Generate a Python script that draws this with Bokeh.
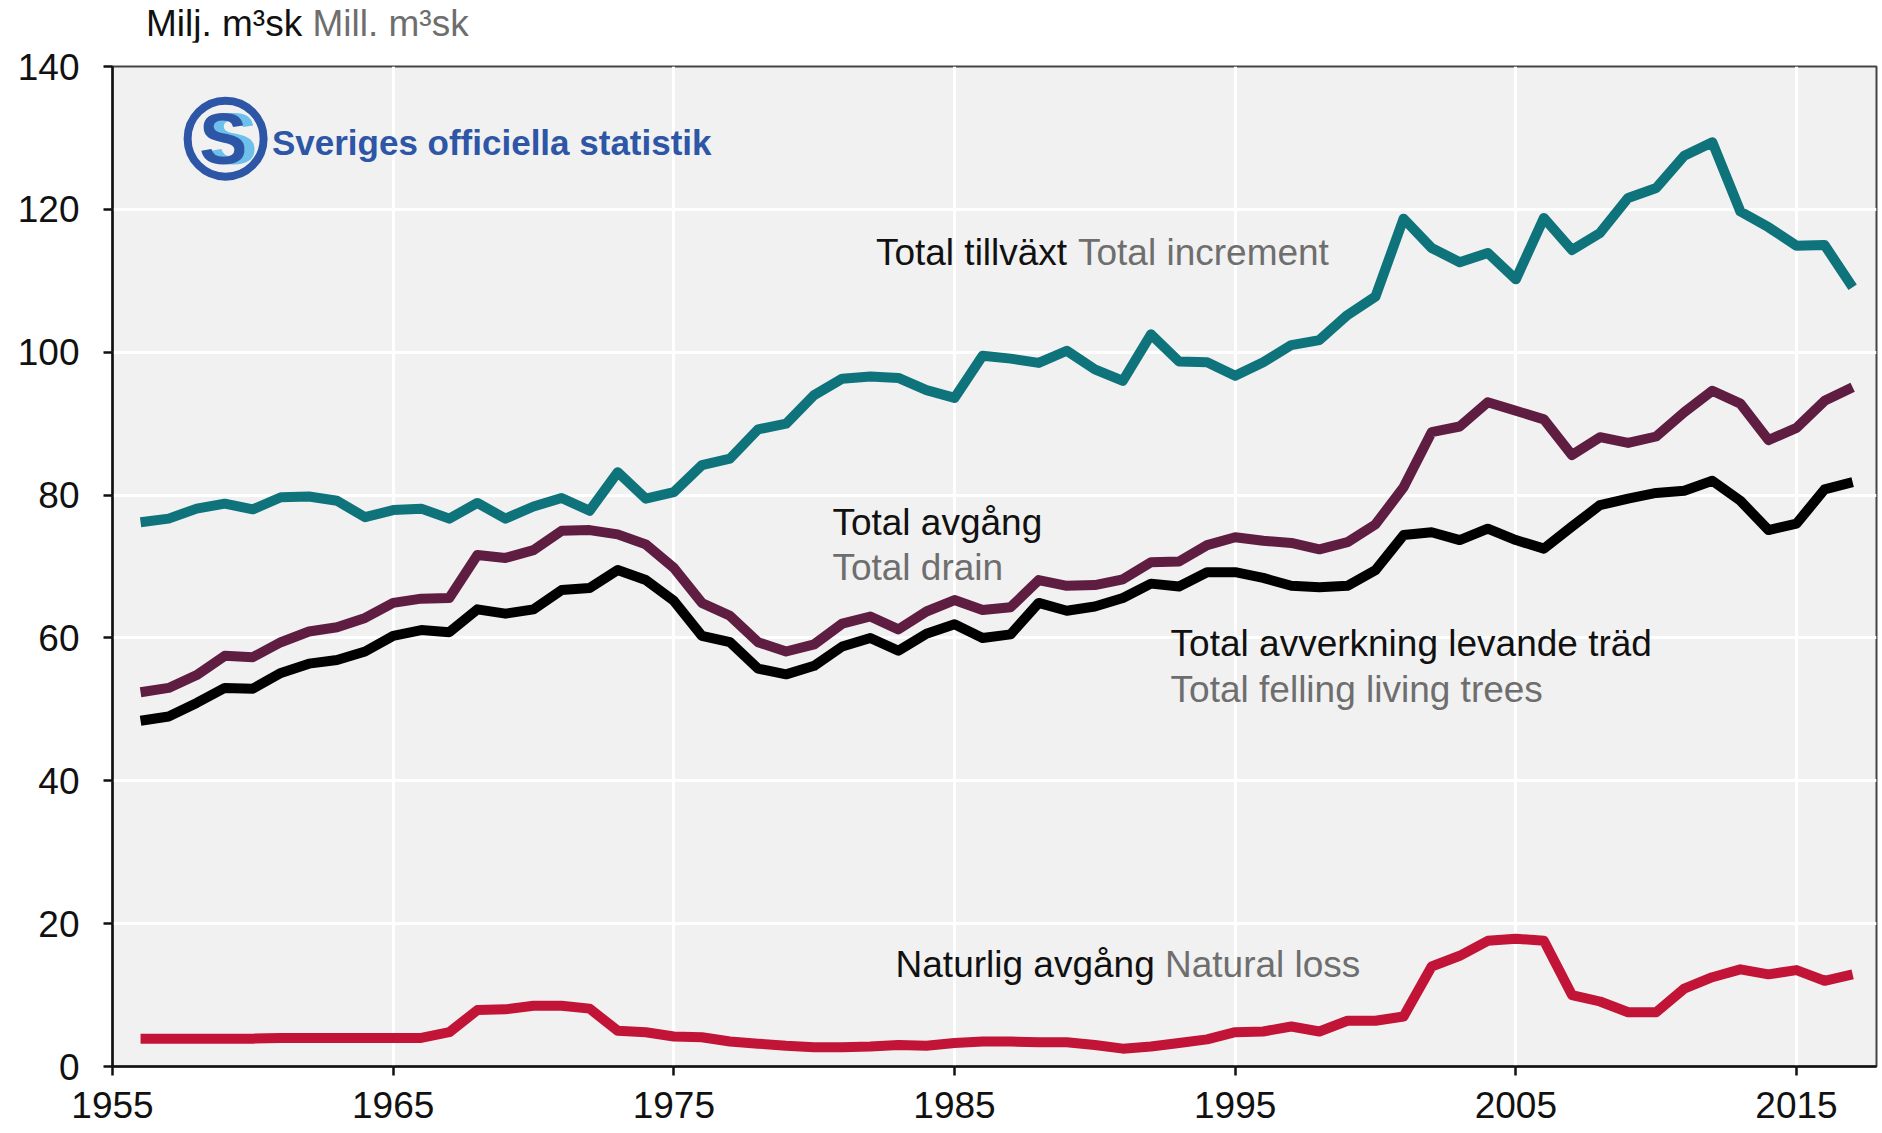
from bokeh.plotting import figure
from bokeh.models import Label, FixedTicker, Range1d, Div
from bokeh.layouts import column
from bokeh.embed import file_html
from bokeh.resources import INLINE

# ---------------- data ----------------
years = list(range(1956, 2018))

total_tillvaxt = [76.2, 76.7, 78.1, 78.8, 78.0, 79.7, 79.8, 79.2, 76.9, 77.9,
                  78.1, 76.7, 78.9, 76.7, 78.4, 79.6, 77.8, 83.2, 79.5, 80.4,
                  84.2, 85.1, 89.2, 90.0, 94.0, 96.3, 96.6, 96.4, 94.7, 93.6,
                  99.5, 99.1, 98.5, 100.2, 97.6, 96.0, 102.5, 98.7, 98.6, 96.7,
                  98.6, 101.0, 101.7, 105.2, 107.8, 118.7, 114.6, 112.6, 113.9, 110.2,
                  118.8, 114.3, 116.7, 121.6, 123.0, 127.5, 129.4, 119.7, 117.5, 114.9,
                  115.0, 109.1]

total_avgang = [52.4, 53.0, 54.8, 57.5, 57.3, 59.4, 60.9, 61.5, 62.8, 64.9,
                65.5, 65.6, 71.6, 71.2, 72.3, 75.0, 75.1, 74.5, 73.1, 69.8,
                64.9, 63.1, 59.4, 58.1, 59.1, 62.0, 63.0, 61.2, 63.7, 65.3,
                63.9, 64.3, 68.1, 67.3, 67.4, 68.2, 70.6, 70.7, 73.0, 74.1,
                73.6, 73.3, 72.4, 73.4, 75.9, 81.1, 88.8, 89.6, 93.0, 91.8,
                90.6, 85.6, 88.1, 87.3, 88.2, 91.6, 94.6, 92.8, 87.7, 89.4,
                93.2, 95.1]

total_avverkning = [48.4, 49.0, 50.9, 53.0, 52.9, 55.1, 56.4, 56.9, 58.1, 60.3,
                    61.1, 60.8, 64.0, 63.4, 64.0, 66.7, 67.0, 69.5, 68.1, 65.2,
                    60.3, 59.4, 55.7, 54.9, 56.1, 58.8, 60.0, 58.2, 60.6, 61.9,
                    60.0, 60.5, 64.9, 63.8, 64.4, 65.6, 67.6, 67.2, 69.2, 69.2,
                    68.4, 67.3, 67.1, 67.3, 69.5, 74.4, 74.8, 73.7, 75.3, 73.7,
                    72.5, 75.6, 78.6, 79.5, 80.3, 80.6, 82.0, 79.2, 75.1, 76.0,
                    80.8, 81.8]

naturlig_avgang = [3.9, 3.9, 3.9, 3.9, 3.9, 4.0, 4.0, 4.0, 4.0, 4.0,
                   4.0, 4.8, 7.9, 8.0, 8.5, 8.5, 8.1, 5.0, 4.8, 4.2,
                   4.1, 3.5, 3.2, 2.9, 2.7, 2.7, 2.8, 3.0, 2.9, 3.3,
                   3.5, 3.5, 3.4, 3.4, 3.0, 2.5, 2.8, 3.3, 3.8, 4.8,
                   4.9, 5.6, 4.9, 6.4, 6.4, 7.0, 14.0, 15.5, 17.6, 17.9,
                   17.6, 10.0, 9.1, 7.6, 7.6, 10.9, 12.5, 13.6, 12.9, 13.5,
                   12.0, 12.9]

x_ticks = [1955, 1965, 1975, 1985, 1995, 2005, 2015]
y_ticks = [0, 20, 40, 60, 80, 100, 120, 140]

unit_sv = "Milj. m³sk"
unit_en = "Mill. m³sk"

# ---------------- style ----------------
FONT = "Liberation Sans"
C_TEAL = "#0f737c"
C_PURPLE = "#5f1d42"
C_BLACK = "#000000"
C_RED = "#c11437"
C_TXT = "#111111"
C_GRAY = "#6e6e6e"
C_LOGO = "#2d56a6"
C_LOGO_LIGHT = "#6cc0ea"
LW = 10
FS = "37px"

header = Div(
    text=f'<span style="color:{C_TXT}">{unit_sv}</span> '
         f'<span style="color:{C_GRAY}">{unit_en}</span>',
    width=800, height=36, margin=(6, 0, 0, 146),
    styles={"font-family": FONT, "font-size": FS, "line-height": "36px",
            "white-space": "nowrap"})

p = figure(width=1880, height=1086, output_backend="svg", toolbar_location=None,
           x_range=Range1d(1955, 2017.85), y_range=Range1d(0, 140),
           min_border_left=112, min_border_right=4, min_border_top=24,
           min_border_bottom=62)

p.background_fill_color = "#f1f1f1"
p.border_fill_color = "white"
p.outline_line_color = "#444444"
p.outline_line_width = 2

p.xaxis.ticker = FixedTicker(ticks=x_ticks)
p.yaxis.ticker = FixedTicker(ticks=y_ticks)
for ax in (p.xaxis[0], p.yaxis[0]):
    ax.major_label_text_font = FONT
    ax.major_label_text_font_size = FS
    ax.major_label_text_color = C_TXT
    ax.axis_line_color = "#111111"
    ax.axis_line_width = 2.5
    ax.major_tick_line_color = "#111111"
    ax.major_tick_line_width = 2.5
    ax.major_tick_in = 0
    ax.major_tick_out = 9
    ax.minor_tick_line_color = None
p.yaxis.major_label_standoff = 24
p.xaxis.major_label_standoff = 16

p.xgrid.grid_line_color = "white"
p.ygrid.grid_line_color = "white"
p.xgrid.grid_line_width = 3
p.ygrid.grid_line_width = 3

# ---------------- lines ----------------
p.line(years, naturlig_avgang, line_color=C_RED, line_width=LW, line_join="round")
p.line(years, total_avverkning, line_color=C_BLACK, line_width=LW, line_join="round")
p.line(years, total_avgang, line_color=C_PURPLE, line_width=LW, line_join="round")
p.line(years, total_tillvaxt, line_color=C_TEAL, line_width=LW, line_join="round")

# ---------------- labels ----------------
def lab(x, y, text, color, size=FS, font=FONT, style="normal", baseline="middle", align="left"):
    p.add_layout(Label(x=x, y=y, text=text, text_color=color, text_font_size=size,
                       text_font=font, text_font_style=style, text_baseline=baseline,
                       text_align=align))

lab(1982.2, 114.0, "Total tillväxt", C_TXT)
lab(1989.4, 114.0, "Total increment", C_GRAY)

lab(1980.65, 76.2, "Total avgång", C_TXT)
lab(1980.65, 69.9, "Total drain", C_GRAY)

lab(1992.7, 59.2, "Total avverkning levande träd", C_TXT)
lab(1992.7, 52.8, "Total felling living trees", C_GRAY)

lab(1982.9, 14.3, "Naturlig avgång", C_TXT)
lab(1992.5, 14.3, "Natural loss", C_GRAY)

# ---------------- logo ----------------
logo_x = [1959.03]
logo_y = [129.9]
p.scatter(logo_x, logo_y, marker="circle", size=76, fill_alpha=0,
          line_color=C_LOGO, line_width=8)
lab(1959.3, 129.9, "S", C_LOGO_LIGHT, size="72px", style="bold", align="center")
lab(1958.95, 129.9, "S", C_LOGO, size="72px", style="bold", align="center")
lab(1960.68, 129.4, "Sveriges officiella statistik", C_LOGO, size="35px",
    style="bold", baseline="middle")

layout = column(header, p, spacing=0)
open("out.html", "w").write(file_html(layout, INLINE))
